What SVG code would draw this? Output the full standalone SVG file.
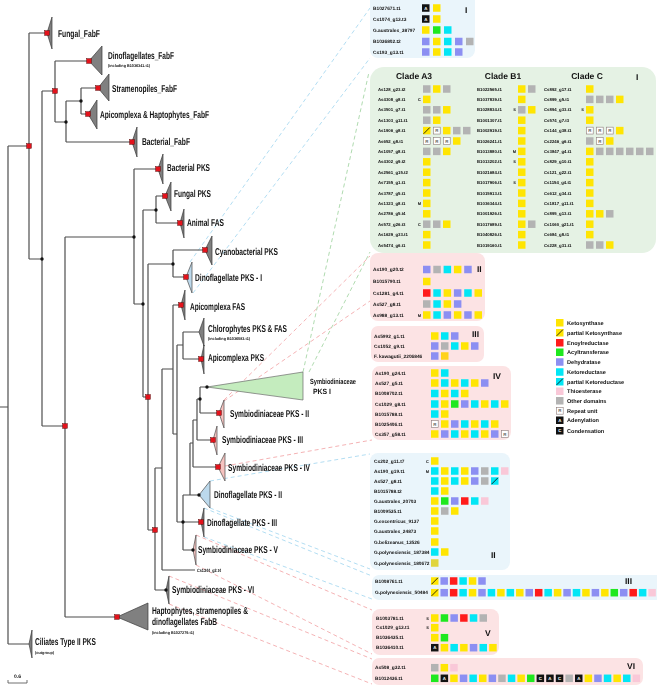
<svg xmlns="http://www.w3.org/2000/svg" width="657" height="685" viewBox="0 0 657 685">
<style>
text{font-family:"Liberation Sans",Arial,sans-serif;font-weight:bold;fill:#111;text-rendering:geometricPrecision}
.tl{font-size:10px}
.ts{font-size:4px}
.nm{font-size:4.8px}
.cn{font-size:4.3px}
.mk{font-size:4px;text-anchor:end}
.rn{font-size:8.5px}
.hd{font-size:8.5px;text-anchor:middle}
.lg{font-size:5.6px}
.sq{font-size:4.4px;text-anchor:middle;fill:#666}
.sqw{font-size:4.4px;text-anchor:middle;fill:#fff}
.tr{stroke:#4d4d4d;stroke-width:1.2;fill:none}
.dl{fill:none;stroke-width:0.9;stroke-dasharray:4 3}
.db{stroke:#a9d9f0}.dg{stroke:#a6d6a6}.dp{stroke:#f3a9ac}
.tg{fill:#7f7f7f;stroke:#3a3a3a;stroke-width:0.7}
.tb{fill:#bcd9ec;stroke:#4a4a4a;stroke-width:0.7}
.tgr{fill:#c4ecbe;stroke:#6a6a6a;stroke-width:0.7}
.tp{fill:#f6c3c0;stroke:#4a4a4a;stroke-width:0.7}
.bxb{fill:#eaf5fb}.bxg{fill:#e5f2e4}.bxp{fill:#fce3e4}
</style>
<defs>
<rect id="Y" width="7.5" height="7.5" fill="#ffe500"/>
<rect id="Yd" width="7.5" height="7.5" fill="#ffd21a"/>
<rect id="Yo" width="7.5" height="7.5" fill="#e0d53c"/>
<rect id="G" width="7.5" height="7.5" fill="#1ee81e"/>
<rect id="Rd" width="7.5" height="7.5" fill="#ff1a1a"/>
<rect id="B" width="7.5" height="7.5" fill="#8c8ff2"/>
<rect id="C" width="7.5" height="7.5" fill="#00e6f5"/>
<rect id="P" width="7.5" height="7.5" fill="#f9c8d8"/>
<rect id="Gr" width="7.5" height="7.5" fill="#b3b3b3"/>
<g id="pY"><rect width="7.5" height="7.5" fill="#ffe500"/><line x1="0.6" y1="6.9" x2="6.9" y2="0.6" stroke="#000" stroke-width="0.8"/></g>
<g id="pC"><rect width="7.5" height="7.5" fill="#00e6f5"/><line x1="0.6" y1="6.9" x2="6.9" y2="0.6" stroke="#000" stroke-width="0.8"/></g>
<g id="R"><rect x="0.3" y="0.3" width="6.9" height="6.9" fill="#fff" stroke="#8a7a7a" stroke-width="0.6"/><text x="3.75" y="5.3" class="sq">R</text></g>
<g id="A"><rect width="7.5" height="7.5" fill="#111"/><text x="3.75" y="5.3" class="sqw">A</text></g>
<g id="Cn"><rect width="7.5" height="7.5" fill="#111"/><text x="3.75" y="5.3" class="sqw">C</text></g>
<rect id="rsq" x="-2.3" y="-2.3" width="4.6" height="4.6" fill="#e3121b" stroke="#5a0000" stroke-width="0.5"/>
<circle id="bd" r="1.7" fill="#111"/>
</defs>
<rect width="657" height="685" fill="#fff"/>
<g style="opacity:0.995">
<g id="connectors">
<path class="dl db" d="M190,262L370,8M193,293L370,58M210,481L370,454M210,508L370,569M204,508L372,576M204,537L372,599"/>
<path class="dl dg" d="M303,372L369,72M309,372L370,252"/>
<path class="dl dp" d="M224,400L370,256M224,401L370,301M225,466L372,440M196,535L372,610M196,565L372,654M169,576L372,659M169,604L372,684"/>
<path class="tr" d="M0,407H8M8,146V644M8,146H29M8,644H29M29,33V259M29,33H47M29,259H42M42,91V426M42,91H55M42,426H65M55,61V122M55,61H89M55,122H66M66,101V142M66,101H81M66,142H132M81,88V114M81,88H98M81,114H88M65,237V617M65,237H134M65,617H117M134,169V304M134,169H158M134,304H143M143,210V397M143,210H156M143,397H148M156,196V223M156,196H165M156,223H180M148,264V530M148,264H173M148,530H155M173,250V277M173,250H205M173,277H186M155,468V590M155,468H162M155,590H166M162,369V570M162,369H173M162,570H195M173,305V434M173,305H181M173,434H177M177,345V522M177,345H183M177,522H183M183,332V359M183,332H199M183,359H201M183,495V550M183,495H199M183,522H201M183,550H193M190,443V495M190,443H193M193,420V467M193,467H218M193,420H197M197,399V440M197,440H213M197,399H200M200,387V413M200,387H207M200,413H219"/>
</g>

<g id="internal-nodes">
<use href="#rsq" x="29" y="146"/><use href="#rsq" x="55" y="91"/><use href="#rsq" x="65" y="426"/><use href="#rsq" x="148" y="397"/><use href="#rsq" x="155" y="530"/>
<use href="#bd" x="42" y="259"/><use href="#bd" x="66" y="122"/><use href="#bd" x="81" y="101"/><use href="#bd" x="134" y="237"/><use href="#bd" x="143" y="304"/><use href="#bd" x="156" y="210"/><use href="#bd" x="173" y="264"/><use href="#bd" x="183" y="522"/><use href="#bd" x="200" y="399"/>
</g>

<g id="n-fungal-fabf"><polygon class="tg" points="47,33 52,17 52,49"/><use href="#rsq" x="47" y="33"/><text class="tl" x="58" y="36.5" textLength="42" lengthAdjust="spacingAndGlyphs">Fungal_FabF</text></g>
<g id="n-dino-fabf"><polygon class="tg" points="89,61 102,46 102,75"/><use href="#rsq" x="89" y="61"/><text class="tl" x="108" y="58.5" textLength="66" lengthAdjust="spacingAndGlyphs">Dinoflagellates_FabF</text><text class="ts" x="108" y="66.5" textLength="42" lengthAdjust="spacingAndGlyphs">(including B1036341.t1)</text></g>
<g id="n-stram-fabf"><polygon class="tg" points="98,88 109,74 109,101"/><use href="#rsq" x="98" y="88"/><text class="tl" x="112" y="91.5" textLength="65" lengthAdjust="spacingAndGlyphs">Stramenopiles_FabF</text></g>
<g id="n-apihapt-fabf"><polygon class="tg" points="88,114 97,100 97,129"/><use href="#rsq" x="88" y="114"/><text class="tl" x="100" y="117.5" textLength="109" lengthAdjust="spacingAndGlyphs">Apicomplexa &amp; Haptophytes_FabF</text></g>
<g id="n-bact-fabf"><polygon class="tg" points="132,142 137,127 137,157"/><use href="#rsq" x="132" y="142"/><text class="tl" x="142" y="144.5" textLength="48" lengthAdjust="spacingAndGlyphs">Bacterial_FabF</text></g>
<g id="n-bact-pks"><polygon class="tg" points="158,169 163,154 163,184"/><use href="#rsq" x="158" y="169"/><text class="tl" x="167" y="170.5" textLength="43" lengthAdjust="spacingAndGlyphs">Bacterial PKS</text></g>
<g id="n-fungal-pks"><polygon class="tg" points="165,196 171,182 171,211"/><use href="#rsq" x="165" y="196"/><text class="tl" x="174" y="196.5" textLength="37" lengthAdjust="spacingAndGlyphs">Fungal PKS</text></g>
<g id="n-animal-fas"><polygon class="tg" points="180,223 184,209 184,238"/><use href="#rsq" x="180" y="223"/><text class="tl" x="187" y="225.5" textLength="37" lengthAdjust="spacingAndGlyphs">Animal FAS</text></g>
<g id="n-cyano-pks"><polygon class="tg" points="205,250 212,236 212,265"/><use href="#rsq" x="205" y="250"/><text class="tl" x="215" y="254.5" textLength="63" lengthAdjust="spacingAndGlyphs">Cyanobacterial PKS</text></g>
<g id="n-dino-pks-1"><polygon class="tb" points="186,277 192,262 192,293"/><use href="#rsq" x="186" y="277"/><text class="tl" x="195" y="280.5" textLength="67" lengthAdjust="spacingAndGlyphs">Dinoflagellate PKS - I</text></g>
<g id="n-api-fas"><polygon class="tg" points="181,305 185,290 185,320"/><use href="#rsq" x="181" y="305"/><text class="tl" x="190" y="309.5" textLength="55" lengthAdjust="spacingAndGlyphs">Apicomplexa FAS</text></g>
<g id="n-chloro"><polygon class="tg" points="199,332 204,318 204,346"/><text class="tl" x="208" y="331.5" textLength="79" lengthAdjust="spacingAndGlyphs">Chlorophytes PKS &amp; FAS</text><text class="ts" x="208" y="339.5" textLength="42" lengthAdjust="spacingAndGlyphs">(including B1036083.t1)</text></g>
<g id="n-api-pks"><polygon class="tg" points="201,359 204,345 204,374"/><use href="#rsq" x="201" y="359"/><text class="tl" x="208" y="360.5" textLength="56" lengthAdjust="spacingAndGlyphs">Apicomplexa PKS</text></g>
<g id="n-symb-pks-1"><polygon class="tgr" points="207,387 303,372 303,400"/><use href="#bd" x="207" y="387"/><text class="tl" x="310" y="383.5" textLength="46" lengthAdjust="spacingAndGlyphs" style="font-size:7.6px">Symbiodiniaceae</text><text class="tl" x="313" y="393.5" textLength="18" lengthAdjust="spacingAndGlyphs" style="font-size:7.6px">PKS I</text></g>
<g id="n-symb-pks-2"><polygon class="tp" points="219,413 224,400 224,428"/><use href="#rsq" x="219" y="413"/><text class="tl" x="230" y="416.5" textLength="79" lengthAdjust="spacingAndGlyphs">Symbiodiniaceae PKS - II</text></g>
<g id="n-symb-pks-3"><polygon class="tp" points="213,440 217,426 217,455"/><use href="#rsq" x="213" y="440"/><text class="tl" x="222" y="442.5" textLength="81" lengthAdjust="spacingAndGlyphs">Symbiodiniaceae PKS - III</text></g>
<g id="n-symb-pks-4"><polygon class="tp" points="218,467 225,453 225,481"/><use href="#rsq" x="218" y="467"/><text class="tl" x="228" y="470.5" textLength="82" lengthAdjust="spacingAndGlyphs">Symbiodiniaceae PKS - IV</text></g>
<g id="n-dino-pks-2"><polygon class="tb" points="199,495 210,481 210,508"/><use href="#bd" x="199" y="495"/><text class="tl" x="214" y="497.5" textLength="68" lengthAdjust="spacingAndGlyphs">Dinoflagellate PKS - II</text></g>
<g id="n-dino-pks-3"><polygon class="tg" points="201,522 204,508 204,537"/><use href="#rsq" x="201" y="522"/><text class="tl" x="207" y="526" textLength="70" lengthAdjust="spacingAndGlyphs">Dinoflagellate PKS - III</text></g>
<g id="n-symb-pks-5"><polygon class="tp" points="193,550 196,535 196,565"/><use href="#bd" x="193" y="550"/><text class="tl" x="198" y="552.5" textLength="80" lengthAdjust="spacingAndGlyphs">Symbiodiniaceae PKS - V</text></g>
<g id="n-cs1344"><text class="ts" x="197" y="572" textLength="24" lengthAdjust="spacingAndGlyphs" style="font-size:4.6px">Cs1344_g2.t4</text></g>
<g id="n-symb-pks-6"><polygon class="tg" points="166,590 169,576 169,604"/><use href="#bd" x="166" y="590"/><text class="tl" x="172" y="592.5" textLength="82" lengthAdjust="spacingAndGlyphs">Symbiodiniaceae PKS - VI</text></g>
<g id="n-hapt-fabb"><polygon class="tg" points="117,617 148,603 148,630"/><use href="#rsq" x="117" y="617"/><text class="tl" x="152" y="614" textLength="96" lengthAdjust="spacingAndGlyphs">Haptophytes, stramenopiles &amp;</text><text class="tl" x="152" y="624.5" textLength="65" lengthAdjust="spacingAndGlyphs">dinoflagellates FabB</text><text class="ts" x="152" y="633.5" textLength="42" lengthAdjust="spacingAndGlyphs">(including B1027279.t1)</text></g>
<g id="n-ciliates"><polygon class="tg" points="29,644 32,630 32,658"/><text class="tl" x="35" y="645" textLength="61" lengthAdjust="spacingAndGlyphs">Ciliates Type II PKS</text><text class="ts" x="35" y="654" textLength="19" lengthAdjust="spacingAndGlyphs">(outgroup)</text></g>
<g id="scale"><path class="tr" d="M8,680V683H27V680" style="stroke-width:0.8"/><text x="17.5" y="678" style="font-size:5px;text-anchor:middle">0.6</text></g>

<g id="box-dino-1">
<rect class="bxb" x="370" y="-8" width="105" height="66" rx="8"/>
<text class="rn" x="465" y="13">I</text>
<text class="nm" x="373" y="9.7">B1027671.t1</text><use href="#A" x="422" y="4.25"/><use href="#Y" x="433" y="4.25"/>
<text class="nm" x="373" y="20.7">Cs1074_g13.t3</text><use href="#A" x="422" y="15.25"/><use href="#Y" x="433" y="15.25"/>
<text class="nm" x="373" y="31.7">G.australes_38797</text><use href="#Y" x="422" y="26.25"/><use href="#G" x="433" y="26.25"/><use href="#C" x="444" y="26.25"/>
<text class="nm" x="373" y="43.2">B1036802.t2</text><use href="#B" x="422" y="37.75"/><use href="#Y" x="433" y="37.75"/><use href="#C" x="444" y="37.75"/><use href="#B" x="455" y="37.75"/><use href="#Gr" x="466" y="37.75"/>
<text class="nm" x="373" y="53.7">Cs193_g13.t1</text><use href="#B" x="422" y="48.25"/><use href="#Y" x="433" y="48.25"/><use href="#C" x="444" y="48.25"/><use href="#B" x="455" y="48.25"/>
</g>

<g id="box-symb-1">
<rect class="bxg" x="370" y="67" width="286" height="186" rx="14"/>
<text class="hd" x="414" y="79">Clade A3</text><text class="hd" x="503" y="79">Clade B1</text><text class="hd" x="587" y="79">Clade C</text><text class="rn" x="636" y="80">I</text>
<text class="cn" x="378" y="90.5">As128_g23.t2</text><use href="#Gr" x="423" y="85.25"/><use href="#Y" x="433" y="85.25"/><use href="#Gr" x="443" y="85.25"/>
<text class="cn" x="378" y="100.9">As4308_g8.t1</text><text class="mk" x="421" y="100.9">C</text><use href="#Y" x="423" y="95.65"/>
<text class="cn" x="378" y="111.3">As3501_g7.t1</text><use href="#Gr" x="423" y="106.05"/><use href="#Gr" x="433" y="106.05"/><use href="#Y" x="443" y="106.05"/>
<text class="cn" x="378" y="121.7">As1303_g11.t1</text><use href="#Gr" x="423" y="116.45"/><use href="#Y" x="433" y="116.45"/>
<text class="cn" x="378" y="132.1">As1906_g8.t1</text><use href="#pY" x="423" y="126.85"/><use href="#R" x="433" y="126.85"/><use href="#Y" x="443" y="126.85"/><use href="#Gr" x="453" y="126.85"/><use href="#Gr" x="463" y="126.85"/>
<text class="cn" x="378" y="142.5">As652_g8.t1</text><use href="#R" x="423" y="137.25"/><use href="#R" x="433" y="137.25"/><use href="#R" x="443" y="137.25"/><use href="#Y" x="453" y="137.25"/>
<text class="cn" x="378" y="152.9">As1057_g8.t1</text><use href="#Gr" x="423" y="147.65"/><use href="#Gr" x="433" y="147.65"/><use href="#Y" x="443" y="147.65"/>
<text class="cn" x="378" y="163.3">As4302_g9.t2</text><use href="#Y" x="423" y="158.05"/>
<text class="cn" x="378" y="173.7">As2561_g15.t2</text><use href="#Y" x="423" y="168.45"/>
<text class="cn" x="378" y="184.1">As7155_g1.t1</text><use href="#Y" x="423" y="178.85"/>
<text class="cn" x="378" y="194.5">As3787_g5.t1</text><use href="#Y" x="423" y="189.25"/>
<text class="cn" x="378" y="204.9">As1323_g8.t1</text><text class="mk" x="421" y="204.9">M</text><use href="#Y" x="423" y="199.65"/>
<text class="cn" x="378" y="215.3">As2786_g5.t4</text><use href="#Y" x="423" y="210.05"/>
<text class="cn" x="378" y="225.7">As572_g26.t3</text><text class="mk" x="421" y="225.7">C</text><use href="#Gr" x="423" y="220.45"/><use href="#Gr" x="433" y="220.45"/><use href="#Y" x="443" y="220.45"/>
<text class="cn" x="378" y="236.1">As1629_g33.t1</text><use href="#Y" x="423" y="230.85"/>
<text class="cn" x="378" y="246.5">As5474_g6.t1</text><use href="#Y" x="423" y="241.25"/>

<text class="cn" x="477" y="90.5">B1022565.t1</text><use href="#Y" x="518" y="85.25"/><use href="#Gr" x="528" y="85.25"/>
<text class="cn" x="477" y="100.9">B1037839.t1</text><use href="#Y" x="518" y="95.65"/>
<text class="cn" x="477" y="111.3">B1028834.t1</text><text class="mk" x="516" y="111.3">S</text><use href="#Gr" x="518" y="106.05"/><use href="#Y" x="528" y="106.05"/>
<text class="cn" x="477" y="121.7">B1001307.t1</text><use href="#Y" x="518" y="116.45"/>
<text class="cn" x="477" y="132.1">B1002919.t1</text><use href="#Y" x="518" y="126.85"/>
<text class="cn" x="477" y="142.5">B1026241.t1</text><use href="#Y" x="518" y="137.25"/>
<text class="cn" x="477" y="152.9">B1013880.t1</text><text class="mk" x="516" y="152.9">M</text><use href="#Y" x="518" y="147.65"/>
<text class="cn" x="477" y="163.3">B1013202.t1</text><text class="mk" x="516" y="163.3">S</text><use href="#Y" x="518" y="158.05"/>
<text class="cn" x="477" y="173.7">B1021684.t1</text><use href="#Y" x="518" y="168.45"/>
<text class="cn" x="477" y="184.1">B1017906.t1</text><text class="mk" x="516" y="184.1">S</text><use href="#Y" x="518" y="178.85"/>
<text class="cn" x="477" y="194.5">B1015913.t1</text><use href="#Y" x="518" y="189.25"/>
<text class="cn" x="477" y="204.9">B1036344.t1</text><use href="#Y" x="518" y="199.65"/>
<text class="cn" x="477" y="215.3">B1001926.t1</text><use href="#Y" x="518" y="210.05"/>
<text class="cn" x="477" y="225.7">B1017689.t1</text><use href="#Y" x="518" y="220.45"/><use href="#Gr" x="528" y="220.45"/>
<text class="cn" x="477" y="236.1">B1040826.t1</text><use href="#Y" x="518" y="230.85"/>
<text class="cn" x="477" y="246.5">B1019160.t1</text><use href="#Y" x="518" y="241.25"/>

<text class="cn" x="544" y="90.5">Cs892_g17.t1</text><use href="#Y" x="586" y="85.25"/>
<text class="cn" x="544" y="100.9">Cs899_g5.t1</text><use href="#Gr" x="586" y="95.65"/><use href="#Gr" x="596" y="95.65"/><use href="#Gr" x="606" y="95.65"/><use href="#Y" x="616" y="95.65"/>
<text class="cn" x="544" y="111.3">Cs894_g33.t1</text><text class="mk" x="584" y="111.3">S</text><use href="#Y" x="586" y="106.05"/>
<text class="cn" x="544" y="121.7">Cs574_g7.t3</text><use href="#Y" x="586" y="116.45"/>
<text class="cn" x="544" y="132.1">Cs144_g38.t1</text><use href="#R" x="586" y="126.85"/><use href="#R" x="596" y="126.85"/><use href="#R" x="606" y="126.85"/><use href="#Y" x="616" y="126.85"/>
<text class="cn" x="544" y="142.5">Cs2246_g6.t1</text><use href="#Gr" x="586" y="137.25"/><use href="#R" x="596" y="137.25"/><use href="#Y" x="606" y="137.25"/>
<text class="cn" x="544" y="152.9">Cs3847_g4.t1</text><use href="#Y" x="586" y="147.65"/><use href="#Gr" x="596" y="147.65"/><use href="#Gr" x="606" y="147.65"/><use href="#Gr" x="616" y="147.65"/><use href="#Gr" x="626" y="147.65"/><use href="#Gr" x="636" y="147.65"/><use href="#Gr" x="646" y="147.65"/>
<text class="cn" x="544" y="163.3">Cs829_g10.t1</text><use href="#Y" x="586" y="158.05"/>
<text class="cn" x="544" y="173.7">Cs121_g22.t1</text><use href="#Y" x="586" y="168.45"/>
<text class="cn" x="544" y="184.1">Cs1154_g4.t1</text><use href="#Y" x="586" y="178.85"/>
<text class="cn" x="544" y="194.5">Cs612_g34.t1</text><use href="#Y" x="586" y="189.25"/>
<text class="cn" x="544" y="204.9">Cs1817_g11.t1</text><use href="#Y" x="586" y="199.65"/>
<text class="cn" x="544" y="215.3">Cs895_g13.t1</text><use href="#Y" x="586" y="210.05"/><use href="#Y" x="596" y="210.05"/><use href="#Gr" x="606" y="210.05"/>
<text class="cn" x="544" y="225.7">Cs1060_g21.t1</text><use href="#Y" x="586" y="220.45"/>
<text class="cn" x="544" y="236.1">Cs684_g8.t1</text><use href="#Y" x="586" y="230.85"/>
<text class="cn" x="544" y="246.5">Cs228_g31.t1</text><use href="#Gr" x="586" y="241.25"/><use href="#Gr" x="596" y="241.25"/><use href="#Y" x="606" y="241.25"/>
</g>

<g id="box-symb-2">
<rect class="bxp" x="370" y="253" width="115" height="68" rx="8"/>
<text class="rn" x="477" y="272">II</text>
<text class="nm" x="373" y="271.1">As190_g20.t2</text><use href="#B" x="423" y="265.75"/><use href="#Gr" x="433.3" y="265.75"/><use href="#C" x="443.6" y="265.75"/><use href="#Y" x="453.9" y="265.75"/><use href="#B" x="464.2" y="265.75"/>
<text class="nm" x="373" y="283.1">B1015790.t1</text><use href="#Y" x="423" y="277.75"/>
<text class="nm" x="373" y="294.6">Cs1281_g4.t1</text><use href="#Rd" x="423" y="289.25"/><use href="#C" x="433.3" y="289.25"/><use href="#Y" x="443.6" y="289.25"/><use href="#B" x="453.9" y="289.25"/><use href="#C" x="464.2" y="289.25"/><use href="#Y" x="474.5" y="289.25"/>
<text class="nm" x="373" y="305.6">As527_g8.t1</text><use href="#Gr" x="423" y="300.25"/><use href="#C" x="433.3" y="300.25"/><use href="#Y" x="443.6" y="300.25"/><use href="#B" x="453.9" y="300.25"/>
<text class="nm" x="373" y="316.6">As988_g13.t1</text><text class="mk" x="421" y="316.6">M</text><use href="#Y" x="423" y="311.25"/><use href="#C" x="433.3" y="311.25"/><use href="#B" x="443.6" y="311.25"/><use href="#Y" x="453.9" y="311.25"/><use href="#B" x="464.2" y="311.25"/><use href="#Y" x="474.5" y="311.25"/>
</g>

<g id="box-symb-3">
<rect class="bxp" x="371" y="326" width="113" height="36" rx="7"/>
<text class="rn" x="472" y="337">III</text>
<text class="nm" x="374" y="337.6">As5992_g1.t1</text><use href="#Y" x="431" y="332.25"/><use href="#C" x="441" y="332.25"/><use href="#B" x="451" y="332.25"/>
<text class="nm" x="374" y="347.6">Cs1052_g9.t1</text><use href="#B" x="431" y="342.25"/><use href="#Gr" x="441" y="342.25"/><use href="#C" x="451" y="342.25"/><use href="#Y" x="461" y="342.25"/><use href="#B" x="471" y="342.25"/>
<text class="nm" x="374" y="357.6">F. kawagutii_2206846</text><use href="#B" x="431" y="352.25"/><use href="#Yd" x="441" y="352.25"/>
</g>

<g id="box-symb-4">
<rect class="bxp" x="372" y="366" width="139" height="74" rx="8"/>
<text class="rn" x="493" y="379">IV</text>
<text class="nm" x="375" y="374.6">As190_g24.t1</text><use href="#Y" x="431" y="369.25"/><use href="#C" x="441" y="369.25"/>
<text class="nm" x="375" y="384.6">As527_g5.t1</text><use href="#Y" x="431" y="379.25"/><use href="#C" x="441" y="379.25"/><use href="#Y" x="451" y="379.25"/><use href="#C" x="461" y="379.25"/><use href="#Y" x="471" y="379.25"/><use href="#B" x="481" y="379.25"/>
<text class="nm" x="375" y="395.1">B1008702.t1</text><use href="#C" x="431" y="389.75"/><use href="#Y" x="441" y="389.75"/><use href="#C" x="451" y="389.75"/><use href="#Y" x="461" y="389.75"/>
<text class="nm" x="375" y="405.6">Cs1029_g8.t1</text><use href="#C" x="431" y="400.25"/><use href="#Y" x="441" y="400.25"/><use href="#G" x="451" y="400.25"/><use href="#B" x="461" y="400.25"/><use href="#C" x="471" y="400.25"/><use href="#Y" x="481" y="400.25"/><use href="#C" x="491" y="400.25"/><use href="#Y" x="501" y="400.25"/>
<text class="nm" x="375" y="415.6">B1015788.t1</text><use href="#C" x="431" y="410.25"/><use href="#Y" x="441" y="410.25"/>
<text class="nm" x="375" y="425.6">B1025406.t1</text><use href="#R" x="431" y="420.25"/><use href="#Y" x="441" y="420.25"/><use href="#B" x="451" y="420.25"/><use href="#C" x="461" y="420.25"/><use href="#Y" x="471" y="420.25"/><use href="#C" x="481" y="420.25"/><use href="#Y" x="491" y="420.25"/>
<text class="nm" x="375" y="435.6">Cs357_g58.t1</text><use href="#Y" x="431" y="430.25"/><use href="#B" x="441" y="430.25"/><use href="#C" x="451" y="430.25"/><use href="#Y" x="461" y="430.25"/><use href="#C" x="471" y="430.25"/><use href="#Y" x="481" y="430.25"/><use href="#B" x="491" y="430.25"/><use href="#R" x="501" y="430.25"/>
</g>

<g id="legend">
<use href="#Y" x="556" y="319"/><text class="lg" x="567" y="324.7">Ketosynthase</text>
<use href="#pY" x="556" y="329"/><text class="lg" x="567" y="334.7">partial Ketosynthase</text>
<use href="#Rd" x="556" y="339"/><text class="lg" x="567" y="344.7">Enoylreductase</text>
<use href="#G" x="556" y="348.5"/><text class="lg" x="567" y="354.3">Acyltransferase</text>
<use href="#B" x="556" y="358.25"/><text class="lg" x="567" y="364">Dehydratase</text>
<use href="#C" x="556" y="368.25"/><text class="lg" x="567" y="374">Ketoreductase</text>
<use href="#pC" x="556" y="378"/><text class="lg" x="567" y="383.7">partial Ketoreductase</text>
<use href="#P" x="556" y="387.5"/><text class="lg" x="567" y="393.3">Thioesterase</text>
<use href="#Gr" x="556" y="397"/><text class="lg" x="567" y="402.7">Other domains</text>
<use href="#R" x="556" y="407"/><text class="lg" x="567" y="412.7">Repeat unit</text>
<use href="#A" x="556" y="416.5"/><text class="lg" x="567" y="422.3">Adenylation</text>
<use href="#Cn" x="556" y="427"/><text class="lg" x="567" y="432.7">Condensation</text>
</g>

<g id="box-dino-2">
<rect class="bxb" x="370" y="453" width="140" height="117" rx="8"/>
<text class="rn" x="491" y="558">II</text>
<text class="nm" x="374" y="462.6">Cs202_g11.t7</text><text class="mk" x="429" y="462.6">C</text><use href="#Y" x="431" y="457.25"/>
<text class="nm" x="374" y="472.6">As190_g19.t1</text><text class="mk" x="429" y="472.6">M</text><use href="#C" x="431" y="467.25"/><use href="#Y" x="441" y="467.25"/><use href="#C" x="451" y="467.25"/><use href="#Y" x="461" y="467.25"/><use href="#B" x="471" y="467.25"/><use href="#Gr" x="481" y="467.25"/><use href="#C" x="491" y="467.25"/><use href="#P" x="501" y="467.25"/>
<text class="nm" x="374" y="482.6">As527_g8.t1</text><use href="#C" x="431" y="477.25"/><use href="#Y" x="441" y="477.25"/><use href="#C" x="451" y="477.25"/><use href="#Y" x="461" y="477.25"/><use href="#B" x="471" y="477.25"/><use href="#Gr" x="481" y="477.25"/><use href="#pC" x="491" y="477.25"/>
<text class="nm" x="374" y="492.6">B1015788.t2</text><use href="#C" x="431" y="487.25"/><use href="#Y" x="441" y="487.25"/>
<text class="nm" x="374" y="502.6">G.australes_20703</text><use href="#Y" x="431" y="497.25"/><use href="#G" x="441" y="497.25"/><use href="#B" x="451" y="497.25"/><use href="#Rd" x="461" y="497.25"/><use href="#C" x="471" y="497.25"/><use href="#P" x="481" y="497.25"/>
<text class="nm" x="374" y="512.6">B1009535.t1</text><use href="#Y" x="431" y="507.25"/><use href="#Gr" x="441" y="507.25"/><use href="#Y" x="451" y="507.25"/>
<text class="nm" x="374" y="522.6">G.excentricus_9137</text><use href="#Y" x="431" y="517.25"/>
<text class="nm" x="374" y="532.6">G.australes_24873</text><use href="#Y" x="431" y="527.25"/>
<text class="nm" x="374" y="543.6">G.belizeanus_13526</text><use href="#Y" x="431" y="538.25"/>
<text class="nm" x="374" y="553.6">G.polynesiensis_187384</text><use href="#C" x="431" y="548.25"/><use href="#Y" x="441" y="548.25"/>
<text class="nm" x="374" y="564.6">G.polynesiensis_180672</text><use href="#Yo" x="431" y="559.25"/>
</g>

<g id="box-dino-3">
<rect class="bxb" x="372" y="575" width="292" height="25" rx="7"/>
<text class="rn" x="625" y="584">III</text>
<text class="nm" x="375" y="582.6">B1008761.t1</text><use href="#pY" x="431" y="577.25"/><use href="#B" x="440.45" y="577.25"/><use href="#Rd" x="449.9" y="577.25"/><use href="#C" x="459.35" y="577.25"/><use href="#Y" x="468.8" y="577.25"/><use href="#B" x="478.25" y="577.25"/>
<text class="nm" x="375" y="594.3">G.polynesiensis_50484</text><use href="#pY" x="431" y="588.95"/><use href="#B" x="440.45" y="588.95"/><use href="#Rd" x="449.9" y="588.95"/><use href="#C" x="459.35" y="588.95"/><use href="#Y" x="468.8" y="588.95"/><use href="#B" x="478.25" y="588.95"/><use href="#C" x="487.7" y="588.95"/><use href="#Y" x="497.15" y="588.95"/><use href="#C" x="506.6" y="588.95"/><use href="#Y" x="516.05" y="588.95"/><use href="#B" x="525.5" y="588.95"/><use href="#Rd" x="534.95" y="588.95"/><use href="#C" x="544.4" y="588.95"/><use href="#Y" x="553.85" y="588.95"/><use href="#B" x="563.3" y="588.95"/><use href="#C" x="572.75" y="588.95"/><use href="#Y" x="582.2" y="588.95"/><use href="#B" x="591.65" y="588.95"/><use href="#Y" x="601.1" y="588.95"/><use href="#G" x="610.55" y="588.95"/><use href="#B" x="620" y="588.95"/><use href="#Rd" x="629.45" y="588.95"/><use href="#C" x="638.9" y="588.95"/><use href="#P" x="648.35" y="588.95"/>
</g>

<g id="box-symb-5">
<rect class="bxp" x="372" y="609" width="127" height="46" rx="8"/>
<text class="rn" x="485" y="636">V</text>
<text class="nm" x="376" y="619.6">B1003781.t1</text><text class="mk" x="429" y="619.6">S</text><use href="#Y" x="431" y="614.25"/><use href="#G" x="440.7" y="614.25"/><use href="#B" x="450.4" y="614.25"/><use href="#Rd" x="460.1" y="614.25"/><use href="#C" x="469.8" y="614.25"/><use href="#Gr" x="479.5" y="614.25"/>
<text class="nm" x="376" y="629.3">Cs1029_g13.t1</text><text class="mk" x="429" y="629.3">S</text><use href="#Y" x="431" y="623.95"/>
<text class="nm" x="376" y="639.3">B1036435.t1</text><use href="#Y" x="431" y="633.95"/><use href="#G" x="440.7" y="633.95"/>
<text class="nm" x="376" y="649.3">B1036410.t1</text><use href="#A" x="431" y="643.95"/><use href="#Y" x="440.7" y="643.95"/><use href="#C" x="450.4" y="643.95"/><use href="#Y" x="460.1" y="643.95"/><use href="#B" x="469.8" y="643.95"/><use href="#C" x="479.5" y="643.95"/><use href="#Y" x="489.2" y="643.95"/>
</g>

<g id="box-symb-6">
<rect class="bxp" x="372" y="658" width="271" height="27" rx="7"/>
<text class="rn" x="627" y="669">VI</text>
<text class="nm" x="375" y="669.3">As508_g32.t1</text><use href="#Gr" x="431" y="663.95"/><use href="#Y" x="440.6" y="663.95"/><use href="#P" x="450.2" y="663.95"/>
<text class="nm" x="375" y="679.9">B1012436.t1</text><use href="#G" x="431" y="674.55"/><use href="#A" x="440.6" y="674.55"/><use href="#Y" x="450.2" y="674.55"/><use href="#B" x="459.8" y="674.55"/><use href="#C" x="469.4" y="674.55"/><use href="#Y" x="479" y="674.55"/><use href="#B" x="488.6" y="674.55"/><use href="#Gr" x="498.2" y="674.55"/><use href="#C" x="507.8" y="674.55"/><use href="#Y" x="517.4" y="674.55"/><use href="#G" x="527" y="674.55"/><use href="#Cn" x="536.6" y="674.55"/><use href="#A" x="546.2" y="674.55"/><use href="#Cn" x="555.8" y="674.55"/><use href="#Gr" x="565.4" y="674.55"/><use href="#A" x="575" y="674.55"/><use href="#Y" x="584.6" y="674.55"/><use href="#B" x="594.2" y="674.55"/><use href="#C" x="603.8" y="674.55"/><use href="#Y" x="613.4" y="674.55"/><use href="#C" x="623" y="674.55"/><use href="#P" x="632.6" y="674.55"/>
</g>
</g>
</svg>
